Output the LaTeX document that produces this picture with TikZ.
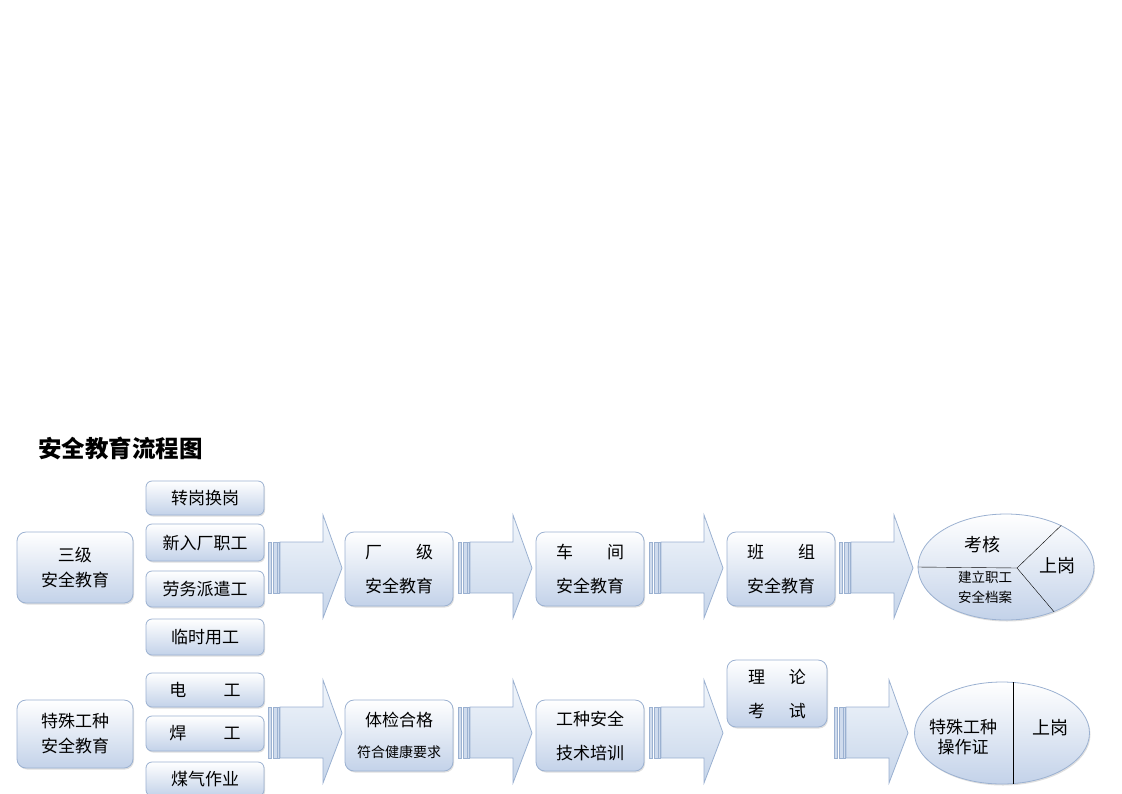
\documentclass[tikz,border=0pt]{standalone}
\usepackage{fontspec}
\setmainfont{Noto Sans CJK SC}
\usetikzlibrary{shapes.geometric,shadows}

\definecolor{boxline}{HTML}{9BB1D1}
\definecolor{boxblue}{HTML}{C3D2E9}
\definecolor{arrowtop}{HTML}{F2F6FB}
\definecolor{arrowbot}{HTML}{C6D5EA}

\tikzset{
  stepbox/.style={draw=boxline, thick, rounded corners=9pt, top color=white,
    bottom color=boxblue, align=center, inner sep=0pt,
    drop shadow={shadow xshift=1pt, shadow yshift=-1.5pt, opacity=0.25},
    font=\fontsize{17}{34}\selectfont},
  tagbox/.style={stepbox, rounded corners=6pt, minimum width=118,
    font=\fontsize{17}{20}\selectfont},
  endoval/.style={ellipse, draw=boxline, thick, top color=white, bottom color=boxblue,
    drop shadow={shadow xshift=1pt, shadow yshift=-1.5pt, opacity=0.25}},
  label/.style={align=center, inner sep=0pt},
  flowarrow/.pic={
    \draw[boxline, fill=boxblue!80] (0,-26) rectangle (3,25);
    \draw[boxline, fill=boxblue!80] (5,-26) rectangle (9,25);
    \draw[boxline, fill=boxblue!80] (9.5,-26) rectangle (11.5,25);
    \draw[boxline, thick, top color=arrowtop, bottom color=arrowbot]
      (12,-26) -- (55,-26) -- (55,-53) -- (74,0) -- (55,50) -- (55,25) -- (12,25) -- cycle;
  }
}

\begin{document}
\begin{tikzpicture}[x=1pt, y=-1pt]
\useasboundingbox (0,0) rectangle (1122,793);

\node[anchor=west, inner sep=0pt, font=\fontsize{23.5}{24}\selectfont\bfseries] (title) at (38,448) {安全教育流程图};

% top row
\node[stepbox, minimum width=116, minimum height=71, font=\fontsize{17}{25}\selectfont] (edu1) at (75,567.5) {三级\\安全教育};
\node[tagbox, minimum height=34] (t1) at (205,498) {转岗换岗};
\node[tagbox, minimum height=37] (t2) at (205,542.5) {新入厂职工};
\node[tagbox, minimum height=36] (t3) at (205,589) {劳务派遣工};
\node[tagbox, minimum height=36] (t4) at (205,637) {临时用工};

\pic (a1) at (268,568) {flowarrow};
\node[stepbox, minimum width=108, minimum height=74] (plant) at (399,569) {\makebox[4em]{厂\hfill 级}\\安全教育};
\pic (a2) at (458,568) {flowarrow};
\node[stepbox, minimum width=108, minimum height=74] (shop) at (590,569) {\makebox[4em]{车\hfill 间}\\安全教育};
\pic (a3) at (649,568) {flowarrow};
\node[stepbox, minimum width=108, minimum height=74] (team) at (781,569) {\makebox[4em]{班\hfill 组}\\安全教育};
\pic (a4) at (839,568) {flowarrow};

\node[endoval, minimum width=176, minimum height=106] (oval1) at (1006,567) {};
\coordinate (split) at (1017,568);
\draw (oval1.west) -- (split);
\draw (split) -- (oval1.37);
\draw (split) -- (oval1.-43);
\node[label, font=\fontsize{18}{20}\selectfont] (check) at (982,545) {考核};
\node[label, font=\fontsize{18}{20}\selectfont] (post1) at (1057,566) {上岗};
\node[label, font=\fontsize{13.5}{20}\selectfont] (file) at (985,587) {建立职工\\安全档案};

% bottom row
\node[stepbox, minimum width=116, minimum height=68, font=\fontsize{17}{25}\selectfont] (edu2) at (75,734) {特殊工种\\安全教育};
\node[tagbox, minimum height=34] (t5) at (205,690) {\makebox[4.2em]{电\hfill 工}};
\node[tagbox, minimum height=35] (t6) at (205,733.5) {\makebox[4.2em]{焊\hfill 工}};
\node[tagbox, minimum height=34] (t7) at (205,779) {煤气作业};

\pic (b1) at (268,733) {flowarrow};
\node[stepbox, minimum width=108, minimum height=71] (health) at (399,735.5) {体检合格\\[-3pt]{\fontsize{14}{14}\selectfont 符合健康要求}};
\pic (b2) at (458,733) {flowarrow};
\node[stepbox, minimum width=108, minimum height=71] (train) at (590,735.5) {工种安全\\技术培训};
\pic (b3) at (649,733) {flowarrow};
\node[stepbox, minimum width=100, minimum height=67] (theory) at (777,693.5) {\makebox[3.4em]{理\hfill 论}\\\makebox[3.4em]{考\hfill 试}};
\pic (b4) at (834,733) {flowarrow};

\node[endoval, minimum width=175, minimum height=102] (oval2) at (1002,733) {};
\draw (oval2.78) -- (oval2.-78);
\node[label, font=\fontsize{17}{20}\selectfont] (cert) at (963,737) {特殊工种\\操作证};
\node[label, font=\fontsize{18}{20}\selectfont] (post2) at (1050,728) {上岗};
\end{tikzpicture}
\end{document}
